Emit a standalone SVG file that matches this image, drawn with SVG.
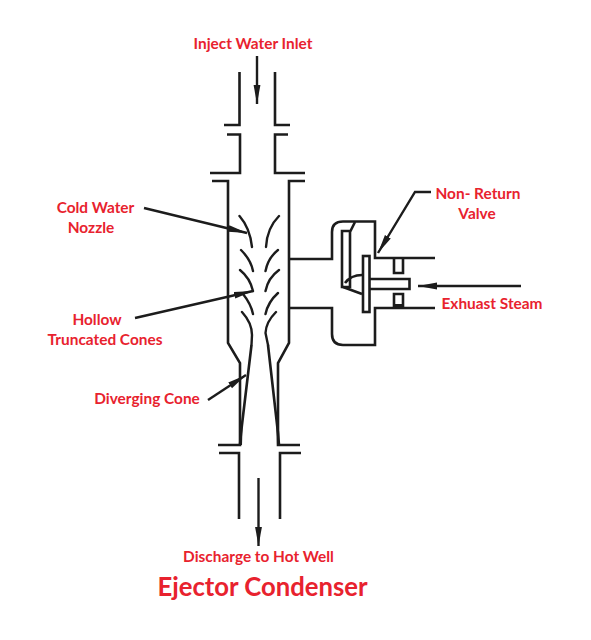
<svg xmlns="http://www.w3.org/2000/svg" width="591" height="640" viewBox="0 0 591 640">
<style>
.l{fill:none;stroke:#1c1c1c;stroke-width:2.6;stroke-linejoin:miter}
.c{fill:none;stroke:#1c1c1c;stroke-width:2.4;stroke-linecap:round}
.a{fill:none;stroke:#1c1c1c;stroke-width:2.4;marker-end:url(#h)}
text{font-family:"Lato","Open Sans",sans-serif;font-weight:700;font-size:15.4px;fill:#e8222e;text-anchor:middle}
</style>
<defs><marker id="h" markerUnits="userSpaceOnUse" markerWidth="20" markerHeight="8" refX="19" refY="4" orient="auto"><path d="M0 .6L19 4L0 7.400z" fill="#1c1c1c"/></marker></defs>
<rect width="591" height="640" fill="#fff"/>
<g id="ejector-body">
<path class="l" d="M239.500 72V125H224M275 72V125H290"/>
<path class="l" d="M227 134.500H240V173H210M288 134.500H275V173H305"/>
<path class="l" d="M212 181H228V343L240 363V445H218M305 181H289V343L278 363V445H300"/>
<path class="l" d="M219 453H239V519M301 453H280V519"/>
<path class="l" d="M251.500 345L241 433L240 445M268 345L278 433L279 445"/>
<path d="M243 410L240 445H242zM276 410L279 445H277z" fill="#1c1c1c"/>
</g>
<g id="cones">
<path class="c" d="M239.500 216Q250 228 252 247M279 216Q267 228 266 247"/>
<path class="c" d="M241 250Q251 260 253 271M278 250Q268 258 265.500 271"/>
<path class="c" d="M240 270Q250 278 253 291M279 270Q268 278 265.500 291"/>
<path class="c" d="M243 294Q251 304 253 314M278 293Q268 302 265.500 314"/>
<path class="c" d="M242 312Q252 323 252 335L251.500 345M276 312Q266 322 265.500 333L268 345"/>
</g>
<g id="valve">
<path class="l" d="M289 259H332V232Q332 221.500 343 221.500H375V258H435"/>
<path class="l" d="M289 308H332V334Q332 345 343 345H375V308H435"/>
<path class="l" d="M342 231H350V287H342zM350 232L355 222"/>
<path class="l" d="M345 283Q351 275 362 275M343 287L362 294"/>
<rect class="l" x="363" y="256" width="6.500" height="56"/>
<path class="l" d="M370 279H409.500V289H370"/>
<path class="l" d="M394 258V273H403V258M394 308V294H403V308"/>
<path d="M394 304H403V308H394z" fill="#1c1c1c"/>
</g>
<g id="connectors">
<path class="a" d="M257 56V104"/>
<path class="a" d="M258.500 478V546"/>
<path class="a" d="M144 208L247 233"/>
<path class="a" d="M135 318L253 291"/>
<path class="a" d="M208 400L246 375"/>
<path class="a" d="M431 192H415L378 253"/>
<path class="a" d="M521 286L418 286"/>
</g>
<g id="labels">
<text x="253" y="49">Inject Water Inlet</text>
<text x="95.500" y="212.500">Cold Water</text>
<text x="91" y="232.500">Nozzle</text>
<text x="478" y="199">Non- Return</text>
<text x="477" y="219">Valve</text>
<text x="492" y="309">Exhuast Steam</text>
<text x="97" y="325">Hollow</text>
<text x="105" y="345">Truncated Cones</text>
<text x="147" y="404">Diverging Cone</text>
<text x="258.500" y="562">Discharge to Hot Well</text>
<text x="262.500" y="596" style="font-size:25.700px">Ejector Condenser</text>
</g>
</svg>
